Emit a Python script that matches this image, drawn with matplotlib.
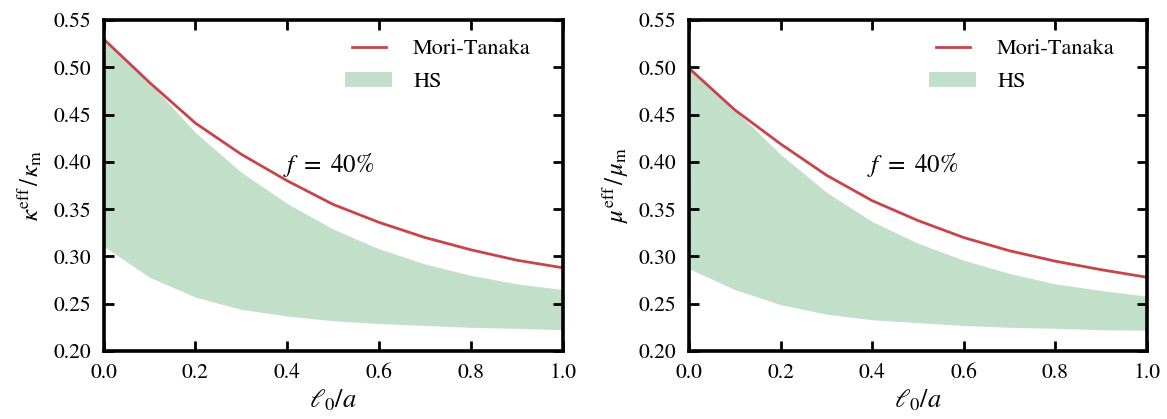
import matplotlib
matplotlib.use("Agg")
import matplotlib.pyplot as plt
from matplotlib.legend_handler import HandlerLine2D
import numpy as np

l0_a = [0.0, 0.1, 0.2, 0.3, 0.4, 0.5, 0.6, 0.7, 0.8, 0.9, 1.0]

kappa_mt = [0.530, 0.484, 0.441, 0.408, 0.380, 0.355, 0.336, 0.320, 0.307, 0.296, 0.288]
kappa_hs_upper = [0.530, 0.484, 0.431, 0.389, 0.356, 0.329, 0.308, 0.292, 0.280, 0.271, 0.265]
kappa_hs_lower = [0.311, 0.278, 0.257, 0.244, 0.237, 0.232, 0.229, 0.227, 0.225, 0.224, 0.2225]

mu_mt = [0.499, 0.455, 0.419, 0.386, 0.359, 0.338, 0.320, 0.306, 0.295, 0.286, 0.278]
mu_hs_upper = [0.499, 0.455, 0.408, 0.368, 0.337, 0.314, 0.296, 0.282, 0.271, 0.264, 0.258]
mu_hs_lower = [0.287, 0.265, 0.249, 0.239, 0.233, 0.230, 0.227, 0.225, 0.224, 0.2225, 0.222]

yticks = [0.20, 0.25, 0.30, 0.35, 0.40, 0.45, 0.50, 0.55]
xticks = [0.0, 0.2, 0.4, 0.6, 0.8, 1.0]

plt.rcParams['font.family'] = ['STIXGeneral', 'DejaVu Serif']
plt.rcParams['mathtext.fontset'] = 'stix'

fig = plt.figure(figsize=(11.67, 4.19), dpi=100)
ax1 = fig.add_axes([0.0887, 0.1623, 0.3935, 0.790])
ax2 = fig.add_axes([0.5904, 0.1623, 0.3922, 0.790])

red = '#c8444a'
green = '#c2e0c9'


class ShortLine(HandlerLine2D):
    def create_artists(self, legend, orig_handle, xdescent, ydescent,
                       width, height, fontsize, trans):
        artists = super().create_artists(legend, orig_handle, xdescent, ydescent,
                                         width, height, fontsize, trans)
        for a in artists:
            if hasattr(a, 'get_xdata'):
                x = np.asarray(a.get_xdata(), dtype=float)
                if len(x) >= 2:
                    x0, x1 = x.min(), x.max()
                    shrink = (x1 - x0) * 0.14
                    a.set_xdata(np.linspace(x0 + shrink, x1 - shrink, len(x)))
        return artists


def style(ax, mt, hu, hl, ylabel):
    ax.fill_between(l0_a, hl, hu, color=green, lw=0, label='HS')
    line, = ax.plot(l0_a, mt, color=red, lw=2.0, label='Mori-Tanaka')
    ax.set_xlim(0, 1)
    ax.set_ylim(0.20, 0.55)
    ax.set_xticks(xticks)
    ax.set_yticks(yticks)
    ax.set_xticklabels([f'{v:.1f}' for v in xticks])
    ax.set_yticklabels([f'{v:.2f}' for v in yticks])
    ax.tick_params(direction='in', top=True, right=True, length=7, width=2,
                   labelsize=15.5, pad=9)
    for s in ax.spines.values():
        s.set_linewidth(2.6)
    ax.set_xlabel(r'$\ell_0/a$', fontsize=19, labelpad=3)
    ax.set_ylabel(ylabel, fontsize=18, labelpad=6)
    ax.text(0.39, 0.389, r'$f\ =\ 40\%$', fontsize=18)
    h, l = ax.get_legend_handles_labels()
    ax.legend([h[1], h[0]], [l[1], l[0]], loc='upper right', frameon=False,
              bbox_to_anchor=(0.972, 1.0),
              fontsize=16, handlelength=2.1, handletextpad=0.95,
              borderaxespad=0.45, labelspacing=0.55,
              handler_map={line: ShortLine()})

style(ax1, kappa_mt, kappa_hs_upper, kappa_hs_lower, r'$\kappa^{\rm eff}\!\;/\;\!\kappa_{\rm m}$')
style(ax2, mu_mt, mu_hs_upper, mu_hs_lower, r'$\mu^{\rm eff}\!\;/\;\!\mu_{\rm m}$')

fig.savefig('out.png', dpi=100)
